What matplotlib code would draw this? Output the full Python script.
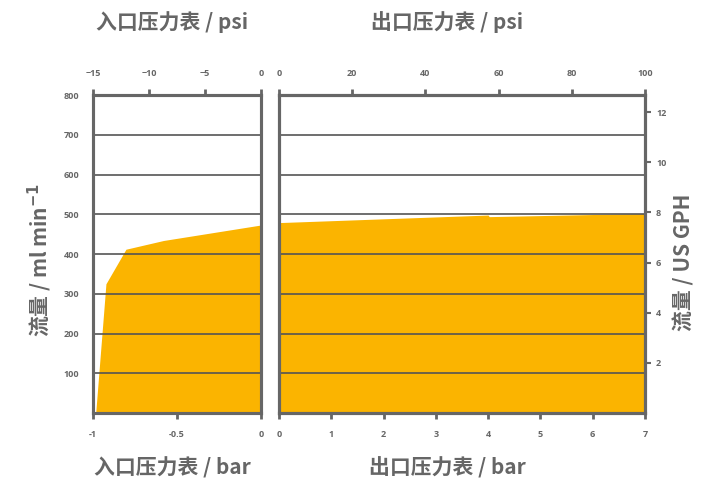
import matplotlib
matplotlib.use("Agg")
import matplotlib.pyplot as plt
import numpy as np

plt.rcParams['font.family'] = ['Open Sans', 'Noto Sans CJK SC', 'DejaVu Sans']

# Data
inlet_bar = [-0.984, -0.923, -0.804, -0.58, 0.0]
inlet_flow = [0, 325, 412, 434, 473]
outlet_bar = [0.0, 4.0, 4.02, 7.0]
outlet_flow = [479, 498, 494, 502]

left_yticks = [100, 200, 300, 400, 500, 600, 700, 800]
inlet_bar_ticks = [-1, -0.5, 0]
inlet_bar_labels = ['-1', '-0.5', '0']
inlet_psi_ticks = [-15, -10, -5, 0]
outlet_bar_ticks = [0, 1, 2, 3, 4, 5, 6, 7]
outlet_psi_ticks = [0, 20, 40, 60, 80, 100]
gph_ticks = [2, 4, 6, 8, 10, 12]

ML_PER_GAL = 3785.41
YMAX = 800

fill_c = '#FBB400'
grey = '#666666'
gridc = '#555555'

fig = plt.figure(figsize=(7.15, 4.86), dpi=100)
W, H = 715, 486

def rect(x0, x1, y0, y1):
    return [x0 / W, 1 - y1 / H, (x1 - x0) / W, (y1 - y0) / H]

axL = fig.add_axes(rect(93, 261, 95, 413))
axR = fig.add_axes(rect(279, 645, 95, 413))

for ax in (axL, axR):
    for s in ax.spines.values():
        s.set_color(grey)
        s.set_linewidth(2.2)
    ax.set_ylim(0, YMAX)
    for yv in left_yticks[:-1]:
        ax.axhline(yv, color=gridc, lw=1.2, zorder=3)

axL.fill_between(inlet_bar, inlet_flow, 0, color=fill_c, lw=0, zorder=2)
axL.set_xlim(-1, 0)
axL.set_xticks(inlet_bar_ticks)
axL.set_xticklabels(inlet_bar_labels)
axL.set_yticks(left_yticks)
axL.set_yticklabels([str(v) for v in left_yticks])
axL.tick_params(axis='y', length=0, pad=10, labelsize=6.5, labelcolor=grey)
axL.tick_params(axis='x', length=4, width=2, color=grey, pad=8, labelsize=6.5, labelcolor=grey)

axR.fill_between(outlet_bar, outlet_flow, 0, color=fill_c, lw=0, zorder=2)
axR.set_xlim(0, 7)
axR.set_xticks(outlet_bar_ticks)
axR.set_yticks([])
axR.tick_params(axis='x', length=4, width=2, color=grey, pad=8, labelsize=6.5, labelcolor=grey)

# top axes
tL = axL.twiny()
tL.set_xlim(-15, 0)
tL.set_xticks(inlet_psi_ticks)
tL.tick_params(axis='x', length=4, width=2, color=grey, pad=8, labelsize=6.5, labelcolor=grey)
tR = axR.twiny()
tR.set_xlim(0, 100)
tR.set_xticks(outlet_psi_ticks)
tR.tick_params(axis='x', length=4, width=2, color=grey, pad=8, labelsize=6.5, labelcolor=grey)

rY = axR.twinx()
rY.set_ylim(0, YMAX * 60 / ML_PER_GAL)
rY.set_yticks(gph_ticks)
rY.tick_params(axis='y', length=4, width=1.5, color=grey, pad=4, labelsize=6.5, labelcolor=grey)

for a in (tL, tR, rY):
    for s in a.spines.values():
        s.set_color(grey)
        s.set_linewidth(2.2)

for a in (axL, axR, tL, tR, rY):
    for lab in a.get_xticklabels() + a.get_yticklabels():
        lab.set_fontweight('bold')

lab_kw = dict(fontsize=15, fontweight='bold', color=grey,
              family=['Noto Sans CJK SC', 'DejaVu Sans'])
fig.text(172 / W, 1 - 22 / H, '入口压力表 / psi', ha='center', va='center', **lab_kw)
fig.text(447 / W, 1 - 22 / H, '出口压力表 / psi', ha='center', va='center', **lab_kw)
fig.text(172 / W, 1 - 468 / H, '入口压力表 / bar', ha='center', va='center', **lab_kw)
fig.text(447 / W, 1 - 468 / H, '出口压力表 / bar', ha='center', va='center', **lab_kw)
fig.text(40 / W, 1 - 260 / H, '流量 / ml min$^{\\mathbf{-1}}$', ha='center', va='center',
         rotation=90, **lab_kw)
fig.text(684 / W, 1 - 262 / H, '流量 / US GPH', ha='center', va='center',
         rotation=90, **lab_kw)

fig.savefig('out.png', dpi=100)
